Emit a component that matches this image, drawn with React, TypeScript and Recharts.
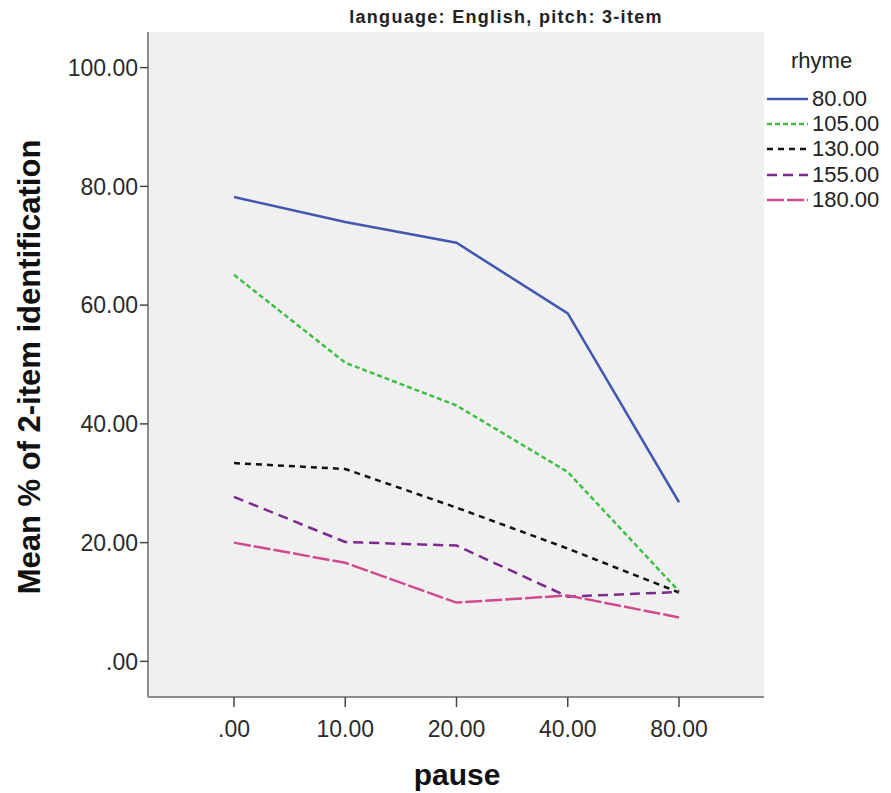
import React from 'react';
import { LineChart, Line, XAxis, YAxis, CartesianGrid, Legend, Label } from 'recharts';

const pauses = ['.00', '10.00', '20.00', '40.00', '80.00'];
const rhyme80 = [78.2, 74.0, 70.5, 58.6, 26.8];
const rhyme105 = [65.1, 50.3, 43.1, 31.9, 11.8];
const rhyme130 = [33.4, 32.4, 25.9, 19.0, 11.6];
const rhyme155 = [27.7, 20.1, 19.5, 10.9, 11.7];
const rhyme180 = [20.0, 16.6, 9.9, 11.1, 7.4];
const yTicks = [0, 20, 40, 60, 80, 100];

const series = [
  { key: 'r80', name: '80.00', values: rhyme80, color: '#4157b0', dash: undefined },
  { key: 'r105', name: '105.00', values: rhyme105, color: '#3fbf45', dash: '5 3' },
  { key: 'r130', name: '130.00', values: rhyme130, color: '#111111', dash: '6 5' },
  { key: 'r155', name: '155.00', values: rhyme155, color: '#7d2a8e', dash: '10 6' },
  { key: 'r180', name: '180.00', values: rhyme180, color: '#cf4a8f', dash: '17 3' },
];

const data = pauses.map((p, i) => {
  const row: Record<string, string | number> = { pause: p };
  series.forEach((s) => { row[s.key] = s.values[i]; });
  return row;
});

const font = '"Liberation Sans", Arial, sans-serif';
const border = '#8c8c8c';

function LegendBox() {
  return (
    <div style={{ fontFamily: font, color: '#222' }}>
      <div style={{ height: 38, lineHeight: '26px', fontSize: 22, paddingLeft: 25 }}>rhyme</div>
      {series.map((s) => (
        <div key={s.key} style={{ display: 'flex', alignItems: 'center', height: 25.3 }}>
          <svg width={44} height={10} style={{ flex: 'none' }}>
            <line x1={1} y1={5} x2={42} y2={5} stroke={s.color} strokeWidth={2.5} strokeDasharray={s.dash} />
          </svg>
          <span style={{ fontSize: 22, marginLeft: 2 }}>{s.name}</span>
        </div>
      ))}
    </div>
  );
}

export default function App() {
  return (
    <div style={{ position: 'absolute', left: 0, top: 0, width: 891, height: 793, background: '#fff' }}>
      <LineChart width={891} height={793} data={data} margin={{ top: 32, right: 2, bottom: 0, left: 0 }}>
        <CartesianGrid fill="#f0f0f0" horizontal={false} vertical={false} />
        <XAxis
          dataKey="pause"
          type="category"
          scale="point"
          padding={{ left: 86, right: 85 }}
          height={96}
          tickSize={10}
          tickMargin={14}
          axisLine={{ stroke: border, strokeWidth: 2 }}
          tickLine={{ stroke: '#444', strokeWidth: 1.5 }}
          tick={{ fill: '#2a2a2a', fontSize: 23, fontFamily: font }}
        >
          <Label
            content={() => (
              <text x={457} y={785} textAnchor="middle" fontFamily={font} fontWeight="bold" fontSize={30} fill="#111">
                pause
              </text>
            )}
          />
          <Label
            content={() => (
              <text x={506} y={23} textAnchor="middle" fontFamily={font} fontWeight="bold" fontSize={18} letterSpacing={1.3} fill="#222">
                language: English, pitch: 3-item
              </text>
            )}
          />
        </XAxis>
        <XAxis xAxisId="top" orientation="top" dataKey="pause" height={0} tick={false} tickLine={false} axisLine={{ stroke: border, strokeWidth: 2 }} />
        <YAxis
          type="number"
          domain={[-6, 106]}
          ticks={yTicks}
          allowDataOverflow
          width={148}
          tickSize={8}
          tickMargin={2}
          tickFormatter={(v: number) => (v === 0 ? '.00' : v.toFixed(2))}
          axisLine={{ stroke: border, strokeWidth: 2 }}
          tickLine={{ stroke: '#444', strokeWidth: 1.5 }}
          tick={{ fill: '#2a2a2a', fontSize: 23, fontFamily: font }}
        >
          <Label
            content={() => (
              <text
                x={0}
                y={0}
                transform="translate(40, 367) rotate(-90)"
                textAnchor="middle"
                fontFamily={font}
                fontWeight="bold"
                fontSize={31}
                fill="#111"
              >
                Mean % of 2-item identification
              </text>
            )}
          />
        </YAxis>
        <YAxis yAxisId="right" orientation="right" width={0} domain={[-6, 106]} tick={false} tickLine={false} axisLine={{ stroke: border, strokeWidth: 2 }} />
        <Legend
          layout="horizontal"
          verticalAlign="middle"
          align="right"
          content={() => <LegendBox />}
          wrapperStyle={{ left: 766, top: 48, width: 125, height: 170 }}
        />
        {series.map((s) => (
          <Line
            key={s.key}
            type="linear"
            dataKey={s.key}
            name={s.name}
            stroke={s.color}
            strokeWidth={2.5}
            strokeDasharray={s.dash}
            dot={false}
            activeDot={false}
            isAnimationActive={false}
          />
        ))}
      </LineChart>
    </div>
  );
}
